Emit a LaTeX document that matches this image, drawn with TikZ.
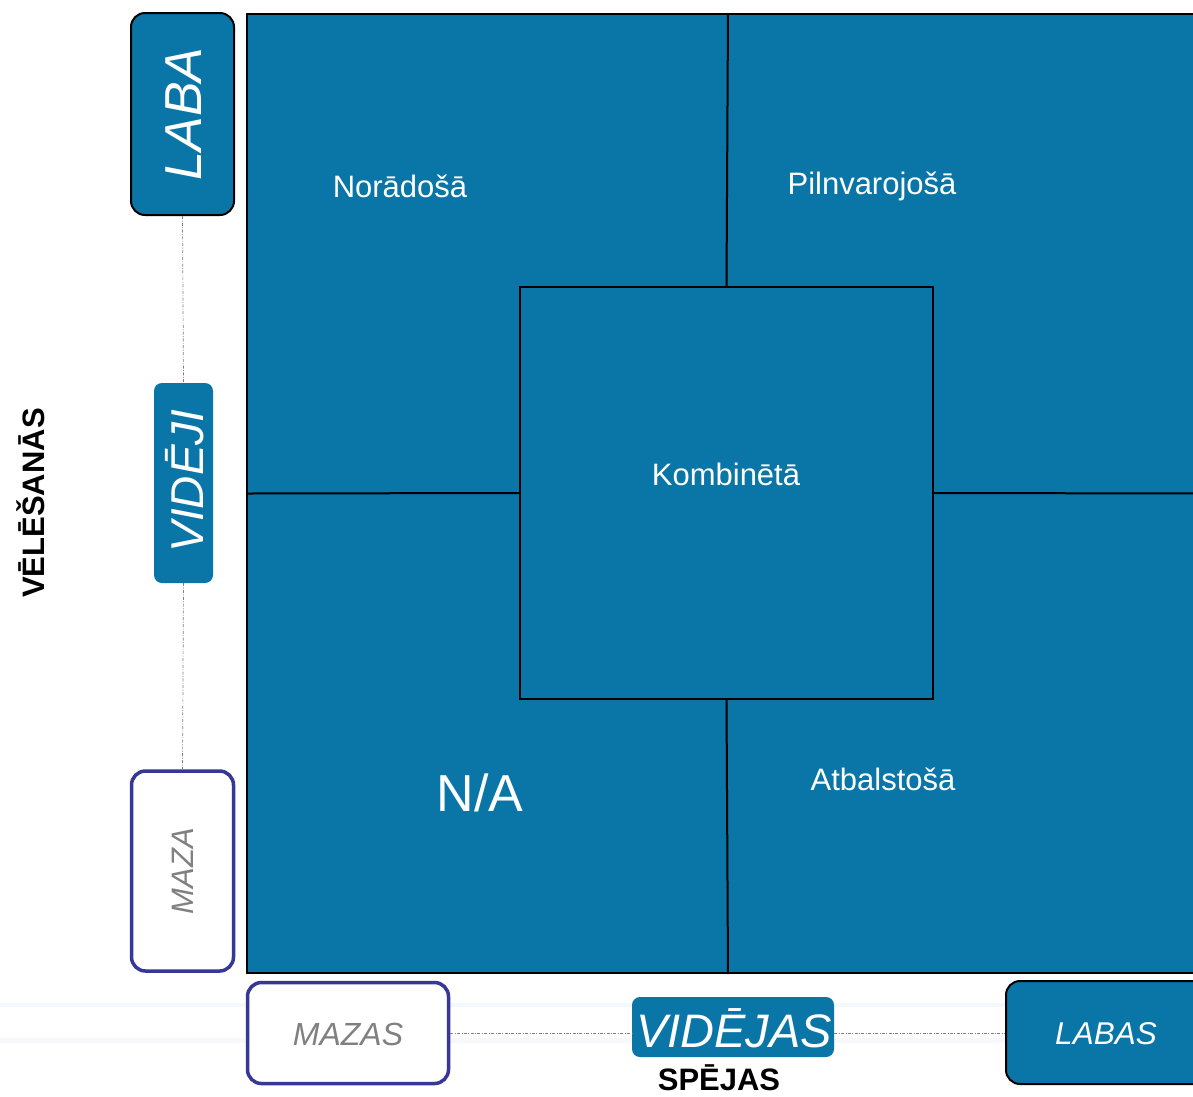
\documentclass[tikz,border=0pt]{standalone}
\usepackage{fontspec}
\setmainfont{Liberation Sans}
\definecolor{qblue}{RGB}{10,117,167}
\definecolor{qindigo}{RGB}{55,55,150}
\definecolor{qgray}{RGB}{128,128,128}
\begin{document}
\begin{tikzpicture}[x=1pt,y=-1pt,
  quadline/.style={draw=black,line width=2pt},
  quadtext/.style={text=white,font=\fontsize{31}{36}\selectfont,inner sep=0pt},
  bluebox/.style={fill=qblue,draw=black,line width=2pt,rounded corners=14pt,inner sep=0pt},
  plainblue/.style={fill=qblue,draw=none,rounded corners=8pt,inner sep=0pt},
  lowbox/.style={fill=white,draw=qindigo,line width=3.5pt,rounded corners=14pt,inner sep=0pt},
  axisline/.style={draw=gray,line width=0.7pt,dash pattern=on 3pt off 1.5pt on 0.8pt off 1.5pt},
  axistitle/.style={font=\bfseries\fontsize{31}{36}\selectfont,text=black,inner sep=0pt}]
\useasboundingbox (0,0) rectangle (1193,1096);
\clip (0,0) rectangle (1193,1096);
\fill[white] (0,0) rectangle (1193,1096);
% faint background smears
\fill[qblue!5] (0,1003) rectangle (1193,1007);
\fill[qblue!4] (0,1038) rectangle (1193,1043);
% main grid
\node[quadline,fill=qblue,minimum width=962pt,minimum height=959pt,inner sep=0pt,anchor=north west] (main) at (246,13) {};
\node[quadline,fill=qblue,minimum width=413pt,minimum height=412pt,inner sep=0pt] (center) at (726.5,493) {};
\draw[quadline] (main.north) -- (center.north);
\draw[quadline] (center.south) -- (main.south);
\draw[quadline] (main.west) -- (center.west);
\draw[quadline] (center.east) -- (main.east);
\node[quadtext] (q1) at (400,186) {Norādošā};
\node[quadtext] (q2) at (872,186) {Pilnvarojošā};
\node[quadtext] (q3) at (726,474) {Kombinētā};
\node[text=white,font=\fontsize{52}{60}\selectfont,inner sep=0pt] (q4) at (480,793) {N/A};
\node[quadtext] (q5) at (883,779) {Atbalstošā};
% vertical axis
\node[bluebox,minimum width=103pt,minimum height=202pt] (laba) at (182.5,114) {};
\node[rotate=90,text=white,font=\itshape\fontsize{52}{60}\selectfont,inner sep=0pt] (labat) at (184,114) {LABA};
\node[plainblue,minimum width=59pt,minimum height=200pt] (videji) at (183.5,483) {};
\node[rotate=90,text=white,font=\itshape\fontsize{46}{52}\selectfont,inner sep=0pt] (videjit) at (185,481) {VIDĒJI};
\node[lowbox,minimum width=102pt,minimum height=200pt] (maza) at (182.5,871) {};
\node[rotate=90,text=qgray,font=\itshape\fontsize{31}{36}\selectfont,inner sep=0pt] (mazat) at (183,871) {MAZA};
\draw[axisline] (laba.south) -- (videji.north);
\draw[axisline] (videji.south) -- (maza.north);
\node[axistitle,rotate=90] (vel) at (31,503) {VĒLĒŠANĀS};
% horizontal axis
\node[lowbox,minimum width=201pt,minimum height=101pt] (mazas) at (348,1033) {};
\node[text=qgray,font=\itshape\fontsize{32}{36}\selectfont,inner sep=0pt] (mazast) at (348,1034) {MAZAS};
\node[plainblue,minimum width=202pt,minimum height=60pt] (videjas) at (733,1027) {};
\node[text=white,font=\itshape\fontsize{47}{52}\selectfont,inner sep=0pt] (videjast) at (734,1028) {VIDĒJAS};
\node[bluebox,minimum width=220pt,minimum height=103pt,anchor=west] (labas) at (1005,1032.5) {};
\node[text=white,font=\itshape\fontsize{31.5}{36}\selectfont,inner sep=0pt] (labast) at (1106,1034) {LABAS};
\draw[axisline] (mazas.east) -- (mazas.east -| videjas.west);
\draw[axisline] (videjas.east |- mazas.east) -- (labas.west |- mazas.east);
\node[axistitle] (spe) at (719,1078) {SPĒJAS};
\end{tikzpicture}
\end{document}
